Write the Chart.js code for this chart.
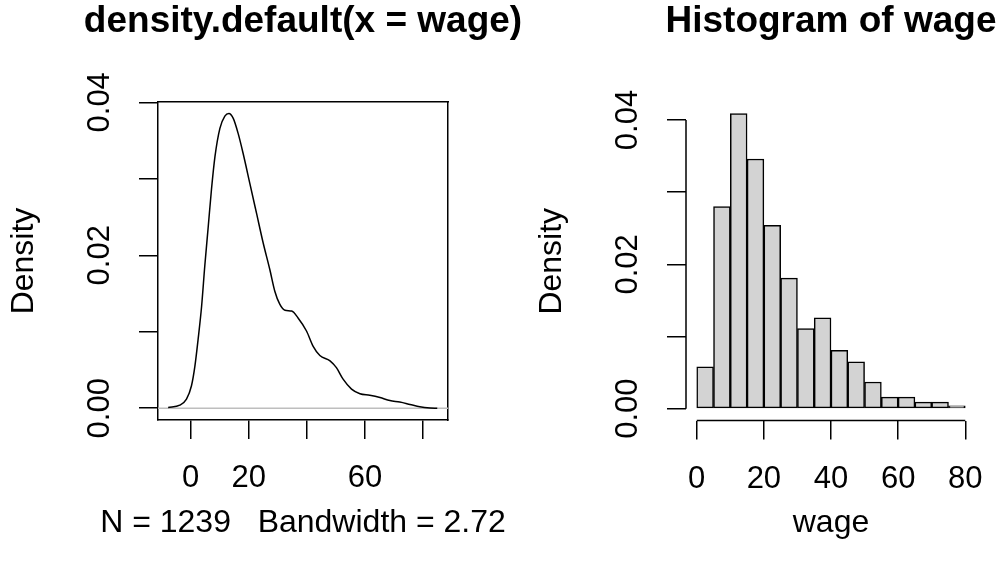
<!DOCTYPE html>
<html>
<head>
<meta charset="utf-8">
<title>wage</title>
<script src="https://cdn.jsdelivr.net/npm/chart.js@4/dist/chart.umd.min.js"></script>
<style>
  html, body { margin: 0; padding: 0; background: #fff; overflow: hidden; width: 1001px; height: 573px; }
  #wrapDens { position: absolute; left: 0; top: 0; width: 606px; height: 573px; }
  #wrapHist { position: absolute; left: 520px; top: 0; width: 622px; height: 573px; }
</style>
</head>
<body>
<div id="wrapDens"><canvas id="chartDens" width="606" height="573"></canvas></div>
<div id="wrapHist"><canvas id="chartHist" width="622" height="573"></canvas></div>
<script>
// densidad estimada
const densX = [-7.7, -3.7, -1.4, 0.3, 1.5, 2.6, 3.8, 4.9, 6.1, 7.2, 8.4, 10.1, 11.8, 13.2, 14.7,
	16.4, 18.1, 20.4, 22.7, 25.0, 27.3, 29.0, 30.7, 32.5, 34.8, 37.0, 39.9, 42.2, 44.5, 48.0,
	50.2, 52.5, 55.4, 58.3, 61.7, 65.2, 68.6, 72.0, 75.5, 78.9, 82.4, 84.9];
const densY = [0.0001, 0.0004, 0.0012, 0.0029, 0.0055, 0.0090, 0.0133, 0.0186, 0.0238, 0.0286, 0.0329,
	0.0366, 0.0382, 0.03855, 0.0379, 0.0359, 0.0333, 0.0294, 0.0255, 0.0216, 0.0181, 0.0153, 0.0136,
	0.0128, 0.0127, 0.0118, 0.0101, 0.0081, 0.0069, 0.0062, 0.0053, 0.0038, 0.0025, 0.0019, 0.0017,
	0.0014, 0.0010, 0.0008, 0.0005, 0.0002, 0.00004, 0.0];

// histograma
const histBreaks = [0, 5, 10, 15, 20, 25, 30, 35, 40, 45, 50, 55, 60, 65, 70, 75, 80];
const histDensity = [0.0058, 0.0280, 0.0409, 0.0346, 0.0254, 0.0181, 0.0111, 0.0126, 0.0081,
	0.0065, 0.0037, 0.0016, 0.0016, 0.0009, 0.0009, 0.0004];

// ejes
const xTicks = [0, 20, 40, 60, 80];
const densXLabels = ['0', '20', '', '60', ''];
const histXLabels = ['0', '20', '40', '60', '80'];
const yTicks = [0, 0.01, 0.02, 0.03, 0.04];
const yLabels = ['0.00', '', '0.02', '', '0.04'];

const densTitle = 'density.default(x = wage)';
const densXTitle = 'N = 1239   Bandwidth = 2.72';
const histTitle = 'Histogram of wage';
const histXTitle = 'wage';
const yTitle = 'Density';

Chart.defaults.font.family = '"Liberation Sans", Arial, Helvetica, sans-serif';
Chart.defaults.color = '#000';

const FONT = { size: 31 };
const FONT_LAB = { size: 32 };
const LW = 1.5;

function ejeX(min, max, labels, height, border) {
	return {
		type: 'linear', position: 'bottom', min: min, max: max, offset: false,
		afterBuildTicks: s => { s.ticks = xTicks.map(v => ({ value: v })); },
		afterFit: s => { s.height = height; },
		ticks: { font: FONT, color: '#000', padding: 21, autoSkip: false, maxRotation: 0,
			callback: (v, i) => labels[i] },
		grid: { offset: false, drawOnChartArea: false, drawTicks: true, tickLength: 19, color: '#000', lineWidth: LW },
		border: { display: border, color: '#000', width: LW }
	};
}

function ejeY(min, max, width, titlePad, border) {
	return {
		type: 'linear', position: 'left', min: min, max: max,
		afterBuildTicks: s => { s.ticks = yTicks.map(v => ({ value: v })); },
		afterFit: s => { s.width = width; },
		ticks: { font: FONT, color: '#000', padding: 8, autoSkip: false, minRotation: 90, maxRotation: 90,
			crossAlign: 'center', callback: (v, i) => yLabels[i] },
		grid: { drawOnChartArea: false, drawTicks: true, tickLength: 19, color: '#000', lineWidth: LW },
		border: { display: border, color: '#000', width: LW },
		title: { display: true, text: yTitle, font: FONT_LAB, color: '#000', padding: { top: titlePad, bottom: 0 } }
	};
}

// eje vacio arriba / derecha: solo reserva espacio y dibuja el borde de la caja
function ejeVacio(pos, size, border) {
	return {
		type: 'linear', position: pos, min: 0, max: 1,
		afterFit: s => { if (pos === 'top') s.height = size; else s.width = size; },
		ticks: { display: false },
		grid: { display: false, drawTicks: false },
		border: { display: border, color: '#000', width: LW }
	};
}

function titulos(main, sub) {
	return {
		legend: { display: false },
		tooltip: { enabled: false },
		title: { display: true, text: main, color: '#000', font: { size: 37, weight: 'bold' },
			padding: { top: 0, bottom: 0 } },
		subtitle: { display: true, position: 'bottom', text: sub, color: '#000', font: FONT_LAB,
			padding: { top: 0, bottom: 31 } }
	};
}

// grafico de densidad
new Chart(document.getElementById('chartDens'), {
	type: 'line',
	data: {
		datasets: [
			{
				data: densX.map((x, i) => ({ x: x, y: densY[i] })),
				borderColor: '#000', borderWidth: LW, pointRadius: 0,
				cubicInterpolationMode: 'monotone', fill: false
			},
			{
				data: [{ x: -11.2, y: 0 }, { x: 88.6, y: 0 }],
				borderColor: '#bebebe', borderWidth: LW, pointRadius: 0, fill: false
			}
		]
	},
	options: {
		responsive: false, animation: false, devicePixelRatio: 1,
		layout: { padding: 0 },
		plugins: titulos(densTitle, densXTitle),
		scales: {
			x: ejeX(-11.2, 88.6, densXLabels, 83.6, true),
			y: ejeY(-0.00154, 0.04004, 158, 5, true),
			xTop: ejeVacio('top', 57.6, true),
			yRight: ejeVacio('right', 158, true)
		}
	}
});

// lineas de eje estilo R: solo entre el primer y ultimo tick
const ejesR = {
	id: 'ejesR',
	afterDraw(chart) {
		const ctx = chart.ctx;
		const sx = chart.scales.x, sy = chart.scales.y;
		const area = chart.chartArea;
		ctx.save();
		ctx.strokeStyle = '#000';
		ctx.lineWidth = LW;
		ctx.beginPath();
		ctx.moveTo(sx.getPixelForValue(xTicks[0]), area.bottom);
		ctx.lineTo(sx.getPixelForValue(xTicks[xTicks.length - 1]), area.bottom);
		ctx.moveTo(area.left, sy.getPixelForValue(yTicks[0]));
		ctx.lineTo(area.left, sy.getPixelForValue(yTicks[yTicks.length - 1]));
		ctx.stroke();
		ctx.restore();
	}
};

// histograma
new Chart(document.getElementById('chartHist'), {
	type: 'bar',
	data: {
		datasets: [{
			data: histDensity.map((d, i) => ({ x: (histBreaks[i] + histBreaks[i + 1]) / 2, y: d })),
			backgroundColor: '#d3d3d3', borderColor: '#000', borderWidth: LW, borderSkipped: false,
			barPercentage: 1, categoryPercentage: 1
		}]
	},
	options: {
		responsive: false, animation: false, devicePixelRatio: 1,
		layout: { padding: 0 },
		plugins: titulos(histTitle, histXTitle),
		scales: {
			x: ejeX(-3.2, 83.2, histXLabels, 83.1, false),
			y: ejeY(-0.00164, 0.0425, 166, 13, false),
			xTop: ejeVacio('top', 57.6, false),
			yRight: ejeVacio('right', 166, false)
		}
	},
	plugins: [ejesR]
});
</script>
</body>
</html>
